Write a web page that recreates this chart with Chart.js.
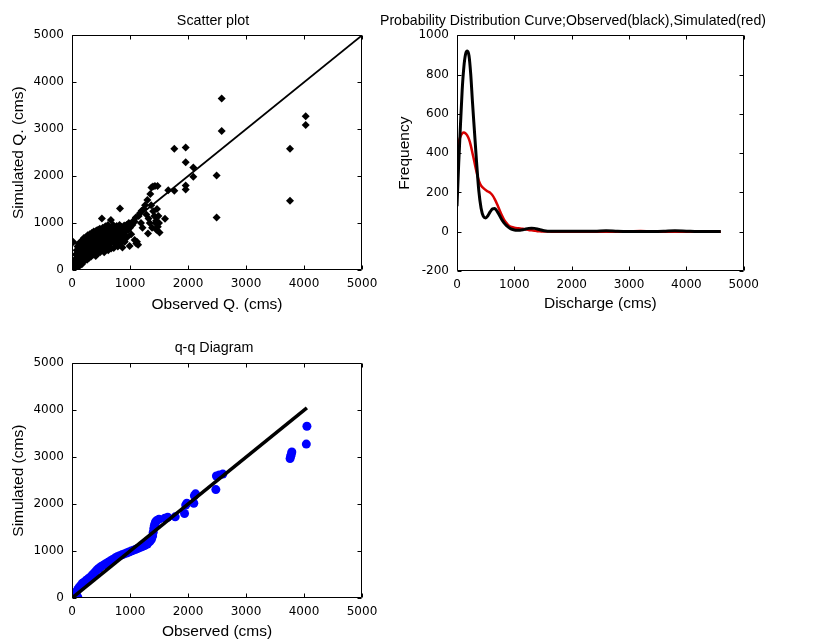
<!DOCTYPE html>
<html><head><meta charset="utf-8">
<script src="https://cdn.jsdelivr.net/npm/chart.js@4.4.1/dist/chart.umd.min.js"></script>
<style>
html,body{margin:0;padding:0;background:#fff;width:814px;height:642px;overflow:hidden;position:relative;}
canvas{position:absolute;}
</style></head><body>
<canvas id="c1" width="426" height="314" style="left:0px;top:0px"></canvas>
<canvas id="c2" width="386" height="314" style="left:380px;top:0px"></canvas>
<canvas id="c3" width="428" height="321" style="left:0px;top:320px"></canvas>
<script>
// ---- Scatter plot data (observed vs simulated, cms) ----
const scatterObs = [
 20,30,35,45,50,55,60,65,70,75,
 80,85,90,95,100,105,110,115,120,125,
 130,140,145,150,155,160,165,170,175,180,
 185,190,195,200,205,210,215,220,225,230,
 240,245,250,255,260,265,270,280,285,290,
 295,300,305,310,320,325,330,335,340,350,
 355,360,365,370,375,380,390,395,400,405,
 410,415,420,430,435,440,445,450,455,460,
 470,475,480,485,490,500,505,510,515,520,
 530,535,540,550,555,560,570,575,580,590,
 600,605,610,620,625,630,640,650,660,670,
 675,680,690,700,710,715,720,730,740,750,
 760,770,780,790,800,810,820,828,835,840,
 850,860,870,880,890,900,910,925,940,950,
 965,980,994,1000,1020,1040,1060,1080,1080,1100,
 1109,1120,1140,1150,1170,1190,1200,1215,1240,1260,
 1280,1300,1310,1320,1340,1350,1365,1370,1380,1395,
 1400,1420,1430,1440,1450,1455,1465,1475,1480,1490,
 1500,1510,1603,1660,1764,1764,1960,1960,1960,1960,
 2092,2092,2494,2494,2581,2581,3759,3759,4029,4029,
 23,10,40,60];
const scatterSim = [
 40,90,20,150,60,230,110,330,30,180,
 420,90,260,500,140,60,340,560,200,110,
 420,270,150,600,350,200,480,120,290,640,
 400,170,540,250,680,330,460,200,590,380,
 700,270,500,620,220,420,740,330,560,660,
 260,460,760,370,600,700,290,520,790,420,
 640,740,330,560,820,470,680,380,780,600,
 300,520,840,440,700,620,350,860,540,760,
 470,660,880,380,580,800,700,430,1099,620,
 900,500,740,840,380,660,560,930,780,460,
 700,880,600,960,420,760,540,840,680,1064,
 460,900,740,600,960,820,470,680,900,560,
 780,940,640,500,860,720,960,1312,560,800,
 920,660,480,880,760,950,600,820,960,700,
 850,1000,510,900,760,960,1050,1030,640,1120,
 567,600,540,1150,1210,1000,1260,900,1300,1380,
 1180,1490,780,1100,1000,1620,1380,1760,900,1780,
 1250,1150,1790,1000,1050,860,1300,1790,920,1150,
 1000,800,1092,1700,2582,1688,2610,2298,1801,1716,
 2184,1986,2014,1121,3653,2964,2582,1475,3277,3092,
 596,10,5,0];
const scatterLine = [0, 5000];

// ---- Probability distribution curves ----
const pdfX = [0,30,60,90,120,150,180,210,240,270, 300,340,380,420,460,500,540,580,620,660,
 700,740,780,820,860,900,950,1000,1050,1100, 1150,1200,1250,1300,1350,1400,1450,1500,1550,1600,
 1700,1800,2000,2200,2400,2600,2800,3000,3200,3400, 3600,3800,4000,4200,4400,4600];
const pdfObs = [130,350,540,720,840,905,920,895,800,660, 530,360,210,120,78,70,82,102,116,118,
 104,84,62,45,32,22,13,9,8,8, 10,14,17,18,17,14,10,6,4,3,
 3,3,3,2,2,5,2,1,1,1, 2,5,3,1,1,1];
const pdfSim = [400,455,485,500,505,500,490,470,440,400, 360,305,260,235,222,212,205,198,185,165,
 140,112,85,62,45,32,24,20,18,17, 15,12,9,7,5,3,2,1,1,1,
 0,0,0,0,0,0,0,1,4,0, 0,0,0,0,0,0];

// ---- q-q diagram (sorted observed vs sorted simulated) ----
const qqObs = [10,50,100,20,40,60,80,100,120,140,160,180,200,230,260,290,320,350,380,410,440,470,500,
 540,580,620,660,700,740,780,820,860,900,940,980,1020,1060,1100,1140,1180,1220,1260,1300,
 1340,1370,1390,1400,1410,1420,1430,1440,1460,1500,1600,1650,1780,1940,1960,1980,2100,2110,2130,2480,
 2490,2540,2600,3760,3770,3780,3790,4040,4050];
const qqSim = [0,10,20,30,60,100,140,180,220,250,280,310,330,360,390,420,450,490,530,570,610,640,670,
 700,730,760,790,820,850,880,900,920,940,960,980,1000,1020,1040,1060,1080,1100,1120,1150,
 1200,1250,1320,1400,1480,1540,1580,1620,1650,1680,1700,1720,1730,1800,1980,2020,2020,2180,2220,2310,
 2600,2620,2640,2970,3020,3060,3110,3280,3660];
const qqLine = [0, 4050];

const tickFont = {family:'DejaVu Sans', size:12};
const labelFont = {family:'Liberation Sans', size:15.5};
const titleFont = {family:'Liberation Sans', size:14.3, weight:'normal'};

const boxTicks = {id:'boxTicks', afterDraw(chart){
  const {ctx, chartArea:a, scales} = chart;
  const L=Math.round(a.left)+0.5, R=Math.round(a.right)-0.5, T=Math.round(a.top)+0.5, B=Math.round(a.bottom)-0.5;
  const len=4;
  ctx.save(); ctx.strokeStyle='#000'; ctx.lineWidth=1;
  ctx.beginPath(); ctx.rect(L,T,R-L,B-T);
  scales.x.ticks.forEach(t=>{const p=Math.round(scales.x.getPixelForValue(t.value))+0.5;
    ctx.moveTo(p,B); ctx.lineTo(p,B-len); ctx.moveTo(p,T); ctx.lineTo(p,T+len);});
  scales.y.ticks.forEach(t=>{const p=Math.round(scales.y.getPixelForValue(t.value))+0.5;
    ctx.moveTo(L,p); ctx.lineTo(L+len,p); ctx.moveTo(R,p); ctx.lineTo(R-len,p);});
  ctx.stroke(); ctx.restore();
}};

function xAxis(min,max,step,title,h,tb){ return {type:'linear',position:'bottom',min,max,
  ticks:{stepSize:step,font:tickFont,color:'#000',padding:7,maxRotation:0,autoSkip:false,callback:v=>String(v)},
  grid:{display:false,drawTicks:false}, border:{display:false},
  title:{display:true,text:title,font:labelFont,color:'#000',padding:{top:0,bottom:tb}},
  afterFit(s){s.height=h;}}; }
function yAxis(min,max,step,title,w,tp){ return {type:'linear',position:'left',min,max,
  ticks:{stepSize:step,font:tickFont,color:'#000',padding:8,autoSkip:false,callback:v=>String(v)},
  grid:{display:false,drawTicks:false}, border:{display:false},
  title:{display:true,text:title,font:labelFont,color:'#000',padding:{top:tp,bottom:0}},
  afterFit(s){s.width=w;}}; }
function spacer(w){ return {type:'linear',position:'right',display:true,
  ticks:{display:false}, grid:{display:false,drawTicks:false}, border:{display:false},
  afterFit(s){s.width=w;}}; }
function baseOpts(titleText, tPad, sx, sy, right){ return {responsive:false, animation:false, events:[],
  layout:{padding:0},
  plugins:{legend:{display:false}, tooltip:{enabled:false},
    title:{display:true,text:titleText,font:titleFont,color:'#000',padding:tPad}},
  scales:{x:sx,y:sy,yr:spacer(right)}}; }

new Chart(document.getElementById('c1'), {
  type:'scatter',
  data:{datasets:[
    {data:scatterLine.map(v=>({x:v,y:v})), showLine:true, borderColor:'#000', borderWidth:1.8, pointRadius:0, order:0},
    {data:scatterObs.map((v,i)=>({x:v,y:scatterSim[i]})), pointStyle:'rectRot', pointRadius:4, backgroundColor:'#000', borderWidth:0, order:1}
  ]},
  options:baseOpts('Scatter plot',{top:12.6,bottom:5.6},
    xAxis(0,5000,1000,'Observed Q. (cms)',44,0), yAxis(0,5000,1000,'Simulated Q. (cms)',72,9.5),64),
  plugins:[boxTicks]
});

new Chart(document.getElementById('c2'), {
  type:'line',
  data:{datasets:[
    {data:pdfX.map((v,i)=>({x:v,y:pdfSim[i]})), borderColor:'#d80000', borderWidth:2.5, pointRadius:0, cubicInterpolationMode:'monotone', fill:false, order:1},
    {data:pdfX.map((v,i)=>({x:v,y:pdfObs[i]})), borderColor:'#000', borderWidth:3, pointRadius:0, cubicInterpolationMode:'monotone', fill:false, order:0}
  ]},
  options:baseOpts('Probability Distribution Curve;Observed(black),Simulated(red)',{top:12.6,bottom:5.6},
    xAxis(0,5000,1000,'Discharge (cms)',43,1), yAxis(-200,1000,200,'Frequency',77,15),19),
  plugins:[boxTicks]
});

new Chart(document.getElementById('c3'), {
  type:'scatter',
  data:{datasets:[
    {data:qqLine.map(v=>({x:v,y:v})), showLine:true, borderColor:'#000', borderWidth:3.5, pointRadius:0, order:0},
    {data:qqObs.map((v,i)=>({x:v,y:qqSim[i]})), pointStyle:'circle', pointRadius:4.5, backgroundColor:'#0000ff', borderWidth:0, order:1}
  ]},
  options:baseOpts('q-q Diagram',{top:19.1,bottom:7.1},
    xAxis(0,5000,1000,'Observed (cms)',43,0), yAxis(0,5000,1000,'Simulated (cms)',72,9.5),66),
  plugins:[boxTicks]
});
</script>
</body></html>
